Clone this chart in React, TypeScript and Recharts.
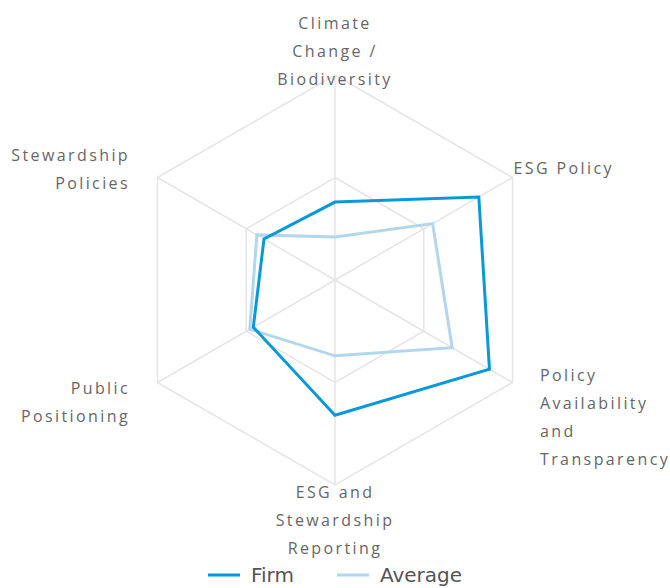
import { PolarAngleAxis, PolarGrid, PolarRadiusAxis, Radar, RadarChart, Legend } from 'recharts';

const categories = [
  'Climate Change / Biodiversity',
  'ESG Policy',
  'Policy Availability and Transparency',
  'ESG and Stewardship Reporting',
  'Public Positioning',
  'Stewardship Policies',
];
const tickLines = [
  ['Climate', 'Change /', 'Biodiversity'],
  ['ESG Policy'],
  ['Policy', 'Availability', 'and', 'Transparency'],
  ['ESG and', 'Stewardship', 'Reporting'],
  ['Public', 'Positioning'],
  ['Stewardship', 'Policies'],
];
const firm = [38, 81, 87, 66, 46, 40];
const average = [21, 55, 66, 37, 48, 44];

const data = categories.map((name, i) => ({ name, firm: firm[i], average: average[i] }));

const FIRM = '#0a99d8';
const AVG = '#b2d7ec';
const LINE_H = 28;

// label placement per side of the hexagon
const tickLayout = [
  { anchor: 'middle', dx: 0, first: (n: number) => 12 - (n - 1) * LINE_H },
  { anchor: 'start', dx: -6, first: () => -5.5 },
  { anchor: 'start', dx: 20.5, first: () => -11.5 },
  { anchor: 'middle', dx: 0, first: () => -1 },
  { anchor: 'end', dx: -20.5, first: () => 1.5 },
  { anchor: 'end', dx: -20.5, first: () => -18.5 },
];

function AngleTick(props: any) {
  const { x, y, index } = props;
  const lines = tickLines[index];
  const lay = tickLayout[index];
  const y0 = y + lay.first(lines.length);
  return (
    <text
      textAnchor={lay.anchor}
      fill="#666"
      fontSize={16}
      fontFamily="'Open Sans', sans-serif"
      letterSpacing={2.4}
    >
      {lines.map((l, i) => (
        <tspan key={i} x={x + lay.dx} y={y0 + i * LINE_H} dominantBaseline="central">
          {l}
        </tspan>
      ))}
    </text>
  );
}

function LegendContent() {
  const items = [
    { label: 'Firm', color: FIRM },
    { label: 'Average', color: AVG },
  ];
  return (
    <div style={{ display: 'flex', justifyContent: 'center', gap: 43, fontFamily: "'DejaVu Sans', sans-serif", fontSize: 20, color: '#555' }}>
      {items.map((it) => (
        <div key={it.label} style={{ display: 'flex', alignItems: 'center' }}>
          <svg width={32} height={4} style={{ marginRight: 11 }}>
            <line x1={0} y1={2} x2={32} y2={2} stroke={it.color} strokeWidth={3} />
          </svg>
          <span>{it.label}</span>
        </div>
      ))}
    </div>
  );
}

export default function App() {
  return (
    <div style={{ position: 'absolute', left: 0, top: 0, width: 670, height: 588, background: '#fff' }}>
      <RadarChart width={670} height={588} data={data} cx={335} cy={280} outerRadius={205}>
        <PolarGrid gridType="polygon" stroke="#e5e5e5" strokeWidth={1.5} />
        <PolarAngleAxis dataKey="name" tick={AngleTick} tickLine={false} axisLine={false} />
        <PolarRadiusAxis domain={[0, 100]} tickCount={3} axisLine={false} tick={false} />
        <Radar name="Average" dataKey="average" stroke={AVG} strokeWidth={3} fill="none" fillOpacity={0} dot={false} isAnimationActive={false} />
        <Radar name="Firm" dataKey="firm" stroke={FIRM} strokeWidth={3} fill="none" fillOpacity={0} dot={false} isAnimationActive={false} />
        <Legend content={LegendContent} wrapperStyle={{ position: 'absolute', top: 563, left: 0, width: 670 }} />
      </RadarChart>
    </div>
  );
}
